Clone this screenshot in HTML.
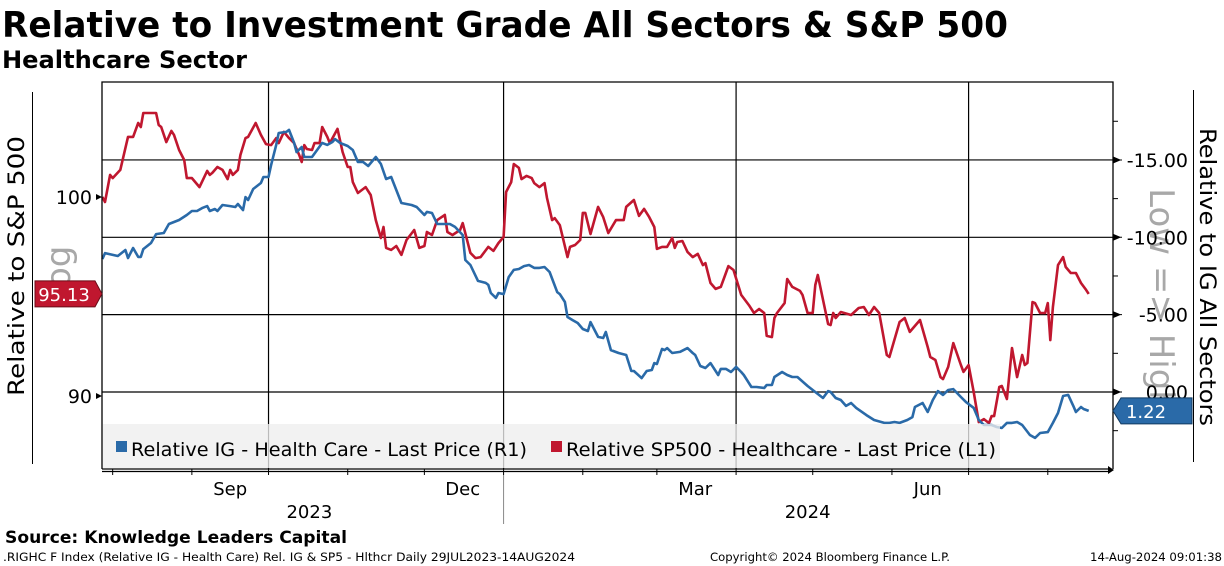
<!DOCTYPE html>
<html><head><meta charset="utf-8"><style>
html,body{margin:0;padding:0;background:#fff;}
svg{display:block;}
text{font-family:"DejaVu Sans","Liberation Sans",sans-serif;}
</style></head><body>
<svg id="chart" width="1224" height="566" viewBox="0 0 1224 566" xmlns="http://www.w3.org/2000/svg">
<text x="2" y="37" font-size="36" font-weight="bold" textLength="1006" lengthAdjust="spacingAndGlyphs">Relative to Investment Grade All Sectors &amp; S&amp;P 500</text>
<text x="2" y="68" font-size="24" font-weight="bold" textLength="245" lengthAdjust="spacingAndGlyphs">Healthcare Sector</text>
<line x1="32.5" y1="92" x2="32.5" y2="464" stroke="#000" stroke-width="1"/>
<line x1="1193.5" y1="90" x2="1193.5" y2="462" stroke="#000" stroke-width="1"/>
<text transform="translate(24,266) rotate(-90)" text-anchor="middle" font-size="22" textLength="260" lengthAdjust="spacingAndGlyphs">Relative to S&amp;P 500</text>
<text transform="translate(1200,277) rotate(90)" text-anchor="middle" font-size="22" textLength="298" lengthAdjust="spacingAndGlyphs">Relative to IG All Sectors</text>
<text transform="translate(70,276) rotate(-90)" text-anchor="middle" font-size="34" fill="#a8a8a8">Log</text>
<text transform="translate(1150,300) rotate(90)" text-anchor="middle" font-size="34" fill="#a8a8a8">Low =&gt; High</text>
<g id="grid"></g>
<g id="series"></g>
<g id="legend">
<rect x="103" y="424" width="897" height="44" fill="#eeeeee" fill-opacity="0.78"/>
<rect x="116" y="441" width="11" height="11" fill="#2a6aa8"/>
<text x="131" y="456" font-size="19" textLength="396" lengthAdjust="spacingAndGlyphs">Relative IG - Health Care - Last Price (R1)</text>
<rect x="551" y="441" width="11" height="11" fill="#c0172f"/>
<text x="566" y="456" font-size="19" textLength="430" lengthAdjust="spacingAndGlyphs">Relative SP500 - Healthcare - Last Price (L1)</text>
</g>
<g id="axes"></g>
<g id="tags"></g>
<text x="5" y="543" font-size="17" font-weight="bold" textLength="342" lengthAdjust="spacingAndGlyphs">Source: Knowledge Leaders Capital</text>
<text x="3" y="561" font-size="11.5" textLength="572" lengthAdjust="spacingAndGlyphs">.RIGHC F Index (Relative IG - Health Care) Rel. IG &amp; SP5 - Hlthcr  Daily 29JUL2023-14AUG2024</text>
<text x="710" y="561" font-size="11.5" textLength="240" lengthAdjust="spacingAndGlyphs">Copyright© 2024 Bloomberg Finance L.P.</text>
<text x="1090" y="561" font-size="11.5" textLength="132" lengthAdjust="spacingAndGlyphs">14-Aug-2024 09:01:38</text>
</svg>
<script>
// Days since 2023-07-29
const redDays = [-1,0,2,3,6,9,11,13,14,15,20,21,22,24,26,27,29,31,32,34,37,40,41,42,44,46,48,49,50,52,53,55,56,59,61,63,65,67,68,70,72,74,76,77,78,79,81,82,84,85,87,88,91,93,95,96,97,99,102,104,106,108,109,110,112,114,116,118,121,123,125,126,128,130,133,134,136,139,140,143,145,147,150,152,154,156,157,159,160,162,163,165,167,168,170,172,173,175,176,178,181,182,184,186,187,188,190,193,195,197,200,203,204,207,209,211,213,215,216,218,220,222,223,224,226,228,230,232,234,235,237,239,241,243,244,246,249,252,254,256,258,259,261,262,263,266,267,269,272,273,275,277,278,279,283,284,285,286,288,292,295,297,299,301,303,306,307,311,313,315,319,322,323,325,327,328,330,332,335,336,338,340,342,344,346,347,348,350,351,353,355,357,359,360,361,363,364,366,368,369,370,371,373,375,376,378,380,382,384,385];
const redValues = [100.00,99.75,101.11,100.95,101.36,103.02,103.02,103.72,103.52,104.22,104.22,103.62,103.52,102.76,103.32,103.12,102.36,101.86,100.95,100.95,100.50,101.31,101.11,101.21,101.51,101.36,100.90,101.36,101.11,101.36,102.11,102.96,103.02,103.72,103.12,102.66,102.61,102.96,102.71,103.27,102.96,102.71,102.11,101.76,102.61,102.41,102.36,102.71,102.71,103.52,103.02,102.71,103.42,102.26,101.51,101.51,100.75,100.20,100.50,100.10,98.84,97.94,98.49,97.44,97.34,97.54,97.09,97.84,98.34,97.44,97.54,98.24,98.09,98.84,99.10,98.24,98.09,98.34,98.69,97.19,96.93,96.98,97.49,97.29,97.69,97.99,100.25,100.75,101.66,101.46,100.90,101.06,100.95,100.70,100.50,100.70,99.95,98.84,98.94,98.59,96.98,97.49,97.59,97.84,99.20,99.20,98.14,99.50,98.99,98.19,98.84,98.84,99.50,99.85,99.05,99.40,98.99,98.49,97.39,97.49,97.49,97.94,97.44,97.74,97.79,97.24,96.98,97.14,96.58,96.68,95.68,95.38,95.48,96.18,96.53,96.33,95.08,94.57,94.17,94.37,94.17,93.02,92.96,93.92,94.17,94.67,95.88,95.48,95.28,95.08,94.17,94.17,95.58,96.08,93.62,93.57,94.17,93.92,94.22,94.07,94.42,94.47,94.07,94.47,94.17,92.06,91.96,93.72,93.92,93.22,93.82,92.46,91.96,91.81,90.95,90.85,91.46,92.66,91.56,91.21,91.56,90.20,88.69,88.84,88.64,88.99,88.99,90.45,90.50,89.85,92.41,90.95,92.06,91.56,91.66,94.72,94.67,94.17,94.17,94.67,92.81,94.47,96.58,96.98,96.48,96.18,96.18,95.68,95.33,95.13];
const blueDays = [-1,0,5,8,9,11,13,14,15,18,20,23,25,27,29,32,34,36,38,40,41,43,44,46,49,51,52,54,55,56,58,61,62,64,65,67,68,71,72,74,75,77,78,81,83,85,87,89,90,92,95,97,99,101,103,104,106,108,110,112,116,118,120,122,125,126,128,130,133,135,137,140,141,143,146,149,150,151,153,154,156,158,160,162,164,166,168,170,172,174,177,178,180,181,183,185,187,189,190,191,193,195,196,198,201,204,206,207,210,212,214,215,216,218,219,220,222,225,228,230,231,233,235,237,240,241,243,245,247,249,250,253,255,258,259,261,262,265,267,269,271,275,277,281,283,284,286,288,290,292,294,298,301,305,307,309,311,314,316,317,320,322,324,326,328,330,332,335,337,340,342,344,347,349,351,353,355,357,359,362,364,366,369,371,373,375,377,379,380,382,383,385];
const blueValues = [-8.60,-8.98,-8.79,-9.18,-8.66,-9.31,-8.73,-8.73,-9.24,-9.63,-10.21,-10.28,-10.86,-10.99,-11.12,-11.44,-11.70,-11.70,-11.89,-12.02,-11.70,-11.83,-11.70,-12.09,-12.02,-11.96,-12.15,-11.76,-12.60,-12.41,-13.12,-13.51,-13.90,-13.90,-14.67,-15.97,-16.74,-16.81,-16.94,-16.10,-15.51,-15.84,-15.19,-15.19,-15.64,-16.10,-15.97,-16.16,-16.35,-16.10,-15.90,-15.64,-14.87,-14.87,-14.61,-14.80,-15.19,-14.74,-13.77,-13.90,-12.22,-12.15,-12.09,-11.96,-11.44,-11.64,-11.57,-10.86,-10.86,-10.86,-10.67,-10.15,-8.53,-8.21,-7.18,-7.05,-6.92,-6.40,-6.08,-6.40,-6.33,-7.43,-7.89,-7.95,-8.14,-8.21,-8.02,-8.02,-8.08,-7.76,-6.46,-6.33,-5.82,-4.85,-4.65,-4.46,-4.07,-3.94,-4.52,-4.20,-3.56,-3.49,-3.88,-2.71,-2.52,-2.39,-1.36,-1.36,-0.90,-1.36,-1.42,-1.87,-1.81,-2.78,-2.71,-2.84,-2.52,-2.59,-2.84,-2.52,-2.39,-1.68,-1.55,-1.87,-1.10,-1.49,-1.49,-1.29,-1.62,-1.29,-1.10,-0.32,-0.32,-0.26,-0.45,-0.45,-0.97,-1.29,-1.10,-0.97,-0.97,-0.39,-0.13,0.39,-0.06,0.00,0.39,0.52,0.90,0.71,1.03,1.49,1.81,2.00,2.00,1.94,2.00,1.81,1.62,0.97,0.71,1.29,0.52,-0.06,0.19,-0.13,-0.19,0.32,0.65,1.03,1.81,2.13,2.13,2.26,2.33,2.00,2.00,1.94,2.13,2.78,2.97,2.65,2.59,2.00,1.36,0.26,0.19,0.90,1.29,0.97,1.10,1.22];
const leftTicks = [100, 90];
const leftTickLabels = ["100", "90"];
const rightMajorTicks = [-15, -10, -5, 0];
const rightTickLabels = ["-15.00", "-10.00", "-5.00", "0.00"];
const rightMinorTicks = [-17.5, -12.5, -7.5, -2.5, 2.5];
const monthStartDays = [3, 34, 64, 95, 125, 156, 187, 216, 247, 277, 308, 338, 369];
const gridDays = [64, 156, 247, 338];
const monthLabels = ["Sep", "Dec", "Mar", "Jun"];
const monthLabelDays = [49, 140, 231, 322];
const yearLabels = ["2023", "2024"];
const yearLabelDays = [80, 275];
const yearSplitDays = [156];
const redLast = "95.13";
const blueLast = "1.22";

const NS = "http://www.w3.org/2000/svg";
const PL = 102, PR = 1113, PT = 82, PB = 469;
function x(d){ return 105 + d * 2.555; }
function yL(v){ return 197 + (100 - v) * 19.9; }
function yR(v){ return 392 + v * 15.47; }
function mk(tag, attrs, parent){ const e = document.createElementNS(NS, tag); for (const k in attrs) e.setAttribute(k, attrs[k]); parent.appendChild(e); return e; }

const grid = document.getElementById('grid');
rightMajorTicks.forEach(v => {
  const l = mk('line', {x1: PL, x2: PR, y1: yR(v), y2: yR(v), stroke: '#000', 'stroke-width': 1.2}, grid);
  
  
});
gridDays.forEach(d => {
  const l = mk('line', {x1: x(d), x2: x(d), y1: PT, y2: PB, stroke: '#000', 'stroke-width': 1.2}, grid);
  
  
});

const series = document.getElementById('series');
const redPts = redDays.map((d, i) => x(d).toFixed(1) + ',' + yL(redValues[i]).toFixed(1)).join(' ');
const redLine = mk('polyline', {points: redPts, fill: 'none', stroke: '#c0172f', 'stroke-width': 2.6, 'stroke-linejoin': 'round'}, series);


const bluePts = blueDays.map((d, i) => x(d).toFixed(1) + ',' + yR(blueValues[i]).toFixed(1)).join(' ');
const blueLine = mk('polyline', {points: bluePts, fill: 'none', stroke: '#2a6aa8', 'stroke-width': 2.6, 'stroke-linejoin': 'round'}, series);



const axes = document.getElementById('axes');
const frame = mk('path', {d: `M${PL},${PB} L${PL},${PT} L${PR},${PT} L${PR},${PB}`, fill: 'none', stroke: '#000', 'stroke-width': 1.3}, axes);


const xAxis = mk('path', {d: `M${PL},${PB} L${PR-4},${PB} M${PL},${PB+2.5} L${PR-4},${PB+2.5}`, stroke: '#000', 'stroke-width': 1.2, fill: 'none'}, axes);


const xArrow = mk('path', {d: `M${PR-5},${PB-3} L${PR+1},${PB+1} L${PR-5},${PB+5} Z`, fill: '#000'}, axes);


monthStartDays.forEach(d => {
  const t = mk('line', {x1: x(d), x2: x(d), y1: PB, y2: PB + 6, stroke: '#000', 'stroke-width': 1}, axes);
  
  
});
monthLabels.forEach((m, i) => {
  const t = mk('text', {x: x(monthLabelDays[i]), y: 495, 'text-anchor': 'middle', 'font-size': 18}, axes);
  t.textContent = m;
  
  
});
yearLabels.forEach((yl, i) => {
  const t = mk('text', {x: x(yearLabelDays[i]), y: 518, 'text-anchor': 'middle', 'font-size': 18}, axes);
  t.textContent = yl;
  
  
});
yearSplitDays.forEach(d => {
  const l = mk('line', {x1: x(d), x2: x(d), y1: 475, y2: 524, stroke: '#888', 'stroke-width': 1}, axes);
  
  
});
leftTicks.forEach((v, i) => {
  const y = yL(v);
  const tk = mk('path', {d: `M${PL},${y} L${PL-6},${y-3} L${PL-6},${y+3} Z`, fill: '#000'}, axes);
  
  
  const t = mk('text', {x: 92, y: y + 7, 'text-anchor': 'end', 'font-size': 19}, axes);
  t.textContent = leftTickLabels[i];
  
  
});
rightMajorTicks.forEach((v, i) => {
  const y = yR(v);
  const tk = mk('path', {d: `M${PR},${y-3} L${PR+7},${y} L${PR},${y+3} Z M${PR},${y} L${PR+9},${y}`, fill: '#000', stroke: '#000', 'stroke-width': 1}, axes);
  
  
  const t = mk('text', {x: 1188, y: y + 7, 'text-anchor': 'end', 'font-size': 19}, axes);
  t.textContent = rightTickLabels[i];
  
  
});
rightMinorTicks.forEach(v => {
  const y = yR(v);
  const tk = mk('line', {x1: PR, x2: PR + 5, y1: y, y2: y, stroke: '#000', 'stroke-width': 1}, axes);
  
  
});

const tags = document.getElementById('tags');
const ry = yL(redValues[redValues.length - 1]);
const redTag = mk('path', {d: `M35,${ry-13} L95,${ry-13} L102,${ry} L95,${ry+13} L35,${ry+13} Z`, fill: '#c0172f', stroke: '#6a0d18', 'stroke-width': 1}, tags);


const redTxt = mk('text', {x: 64, y: ry + 7, 'text-anchor': 'middle', 'font-size': 18, fill: '#fff'}, tags);
redTxt.textContent = redLast;


const by = yR(blueValues[blueValues.length - 1]);
const blueTag = mk('path', {d: `M${PR},${by} L${PR+8},${by-13} L1192,${by-13} L1192,${by+13} L${PR+8},${by+13} Z`, fill: '#2a6aa8', stroke: '#123a60', 'stroke-width': 1}, tags);


const blueTxt = mk('text', {x: 1146, y: by + 7, 'text-anchor': 'middle', 'font-size': 18, fill: '#fff'}, tags);
blueTxt.textContent = blueLast;


</script>
</body></html>
